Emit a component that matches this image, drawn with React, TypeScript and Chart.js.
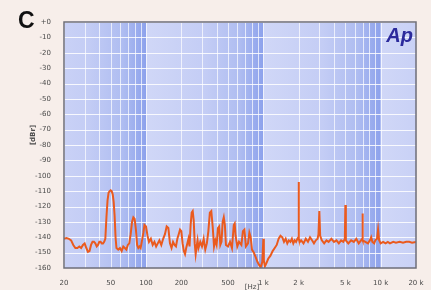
import React, { useEffect, useRef } from "react";
import { Chart, registerables } from "chart.js";

Chart.register(...registerables);

const freqs: number[] = [
  20, 21, 22, 23, 24, 25, 26, 27, 28, 29, 30, 31, 32, 33, 34, 35, 36, 37, 38, 39,
  40, 41, 42, 43, 44, 45, 46, 47, 48, 49, 50, 51, 52, 53, 54, 55, 56, 58, 60, 62,
  64, 66, 68, 70, 72, 74, 76, 78, 80, 82, 84, 86, 88, 90, 92, 95, 97, 100, 103, 106,
  110, 114, 118, 122, 126, 130, 135, 140, 145, 150, 155, 160, 165, 170, 175, 180, 185, 190, 195, 200,
  205, 210, 215, 220, 225, 230, 235, 240, 245, 250, 255, 260, 265, 270, 275, 280, 290, 300, 310, 320,
  330, 340, 350, 360, 370, 380, 390, 400, 410, 420, 430, 440, 450, 460, 470, 480, 500, 520, 540, 560,
  570, 580, 600, 620, 650, 670, 690, 710, 740, 760, 780, 800, 830, 860, 890, 920, 950, 980, 1000, 1010,
  1030, 1060, 1100, 1150, 1200, 1250, 1300, 1350, 1400, 1450, 1500, 1550, 1600, 1650, 1700, 1750, 1800, 1850, 1900, 1950,
  1990, 2000, 2010, 2050, 2100, 2200, 2300, 2400, 2500, 2600, 2700, 2800, 2900, 2950, 3000, 3050, 3150, 3300, 3450, 3600,
  3800, 4000, 4200, 4400, 4600, 4800, 4950, 5000, 5050, 5300, 5600, 5900, 6200, 6500, 6800, 6950, 7000, 7050, 7400, 7800,
  8100, 8300, 8500, 8800, 9000, 9300, 9500, 9700, 10000, 10500, 11000, 11500, 12000, 12800, 13500, 14500, 15500, 16500, 17500, 18500,
  20000,
];

const levels: number[] = [
  -141, -140.5, -141, -142, -145, -147, -147, -146, -147, -145, -144, -147, -149.5, -149, -145, -143, -143, -144, -146, -145,
  -143, -143, -144, -144, -143, -141, -127, -116, -111, -110, -109.5, -110, -112, -117, -126, -140, -147, -148, -147, -149,
  -146, -147, -148, -145, -144, -138, -130, -127, -128, -135, -145, -147, -146, -147, -143, -137, -132, -133, -139, -143,
  -141, -145, -143, -146, -144, -142, -145, -141, -138, -133, -134, -144, -147, -143, -145, -146, -141, -138, -135, -136,
  -144, -149, -151, -147, -144, -141, -146, -132, -124, -123, -129, -144, -151, -146, -142, -147, -143, -146, -141, -148,
  -144, -136, -124, -123, -133, -146, -142, -145, -134, -133, -145, -143, -130, -127, -132, -145, -146, -143, -147, -132,
  -131, -139, -146, -143, -145, -136, -135, -146, -144, -137, -140, -148, -150, -153, -156, -158, -159.5, -156, -141, -155,
  -159, -157, -154, -152, -149, -147, -145, -141, -139, -140, -143, -141, -144, -142, -143, -141, -144, -142, -143, -141,
  -140, -104, -141, -143, -142, -144, -141, -143, -140, -142, -144, -142, -141, -138, -123, -139, -142, -144, -142, -143,
  -141, -143, -142, -144, -142, -143, -141, -119, -142, -144, -142, -143, -141, -144, -142, -141, -124.5, -142, -143, -144,
  -142, -140, -143, -144, -142, -141, -135, -142, -144, -143, -144, -143, -144, -143, -143.5, -143, -143.5, -143, -143, -143.5,
  -143,
];

const xTickValues: number[] = [20, 50, 100, 200, 500, 1000, 2000, 5000, 10000, 20000];
const xTickLabels: string[] = ["20", "50", "100", "200", "500", "1 k", "2 k", "5 k", "10 k", "20 k"];
const yTickLabels: string[] = [
  "+0", "-10", "-20", "-30", "-40", "-50", "-60", "-70", "-80", "-90",
  "-100", "-110", "-120", "-130", "-140", "-150", "-160",
];
const minorGrid: number[] = [
  20, 30, 40, 50, 60, 70, 80, 90, 100, 200, 300, 400, 500, 600, 700, 800, 900,
  1000, 2000, 3000, 4000, 5000, 6000, 7000, 8000, 9000, 10000, 20000,
];
const decades: number[][] = [[10, 100], [100, 1000], [1000, 10000], [10000, 100000]];

const bgPlugin = {
  id: "apBackground",
  beforeDatasetsDraw(chart: any) {
    const { ctx, chartArea: a, scales } = chart;
    const xs = scales.x;
    const ys = scales.y;
    ctx.save();
    ctx.beginPath();
    ctx.rect(a.left, a.top, a.right - a.left, a.bottom - a.top);
    ctx.clip();
    ctx.fillStyle = "#c9d1f5";
    ctx.fillRect(a.left, a.top, a.right - a.left, a.bottom - a.top);
    for (const [d0, d1] of decades) {
      const x0 = xs.getPixelForValue(d0);
      const x1 = xs.getPixelForValue(d1);
      const g = ctx.createLinearGradient(x0, 0, x1, 0);
      g.addColorStop(0, "#d0d7f7");
      g.addColorStop(0.5, "#c4cdf5");
      g.addColorStop(0.8, "#afbdf1");
      g.addColorStop(1, "#8da2ec");
      ctx.fillStyle = g;
      ctx.fillRect(x0, a.top, x1 - x0, a.bottom - a.top);
    }
    ctx.strokeStyle = "rgba(255,255,255,0.7)";
    ctx.lineWidth = 1;
    for (const f of minorGrid) {
      const x = Math.round(xs.getPixelForValue(f)) + 0.5;
      ctx.beginPath();
      ctx.moveTo(x, a.top);
      ctx.lineTo(x, a.bottom);
      ctx.stroke();
    }
    ctx.strokeStyle = "rgba(255,255,255,0.85)";
    for (let v = 0; v >= -160; v -= 10) {
      const y = Math.round(ys.getPixelForValue(v)) + 0.5;
      ctx.beginPath();
      ctx.moveTo(a.left, y);
      ctx.lineTo(a.right, y);
      ctx.stroke();
    }
    ctx.restore();
  },
  afterDraw(chart: any) {
    const { ctx, chartArea: a } = chart;
    ctx.save();
    ctx.strokeStyle = "#6e6e78";
    ctx.lineWidth = 1.5;
    ctx.strokeRect(a.left, a.top, a.right - a.left, a.bottom - a.top);
    ctx.fillStyle = "#2b2a9c";
    ctx.font = "italic bold 20px 'Liberation Sans', Arial, sans-serif";
    ctx.textAlign = "right";
    ctx.textBaseline = "top";
    ctx.fillText("Ap", a.right - 3, a.top + 4);
    ctx.fillStyle = "#4a4a4a";
    ctx.font = "bold 7px 'DejaVu Sans', sans-serif";
    ctx.textAlign = "center";
    ctx.textBaseline = "middle";
    ctx.translate(33, 135);
    ctx.rotate(-Math.PI / 2);
    ctx.fillText("[dBr]", 0, 0);
    ctx.restore();
    ctx.save();
    ctx.fillStyle = "#4a4a4a";
    ctx.font = "7px 'DejaVu Sans', sans-serif";
    ctx.textAlign = "center";
    ctx.textBaseline = "top";
    ctx.fillText("[Hz]", 252, 284);
    ctx.restore();
  },
};

export default function App() {
  const ref = useRef<HTMLCanvasElement>(null);
  useEffect(() => {
    if (!ref.current) return;
    const points = freqs.map((f, i) => ({ x: f, y: levels[i] }));
    const chart = new Chart(ref.current, {
      type: "line",
      data: {
        datasets: [
          {
            data: points,
            borderColor: "#ea5a1e",
            borderWidth: 2,
            pointRadius: 0,
            tension: 0,
            fill: false,
          },
        ],
      },
      plugins: [bgPlugin],
      options: {
        animation: false,
        responsive: false,
        maintainAspectRatio: false,
        layout: { padding: { left: 0, right: 15, top: 22, bottom: 0 } },
        plugins: { legend: { display: false }, tooltip: { enabled: false } },
        scales: {
          x: {
            type: "logarithmic",
            min: 20,
            max: 20000,
            grid: { display: false },
            border: { display: false },
            afterBuildTicks: (s: any) => {
              s.ticks = xTickValues.map((v) => ({ value: v }));
            },
            afterFit: (s: any) => {
              s.height = 22;
            },
            ticks: {
              autoSkip: false,
              maxRotation: 0,
              padding: 3,
              color: "#4a4a4a",
              font: { family: "'DejaVu Sans', sans-serif", size: 7 },
              callback: (v: any) => {
                const i = xTickValues.indexOf(Number(v));
                return i >= 0 ? xTickLabels[i] : "";
              },
            },
          },
          y: {
            min: -160,
            max: 0,
            grid: { display: false },
            border: { display: false },
            afterBuildTicks: (s: any) => {
              s.ticks = yTickLabels.map((_, i) => ({ value: -10 * i }));
            },
            afterFit: (s: any) => {
              s.width = 64;
            },
            ticks: {
              autoSkip: false,
              padding: 5,
              color: "#4a4a4a",
              font: { family: "'DejaVu Sans', sans-serif", size: 7 },
              callback: (v: any) => yTickLabels[Math.round(-Number(v) / 10)],
            },
          },
        },
      },
    });
    return () => chart.destroy();
  }, []);
  return (
    <div
      style={{
        position: "fixed",
        left: 0,
        top: 0,
        width: 431,
        height: 290,
        background: "#f7eeea",
      }}
    >
      <canvas ref={ref} width={431} height={290} style={{ display: "block" }} />
      <div
        style={{
          position: "absolute",
          left: 18,
          top: 7,
          fontFamily: "'Liberation Sans', Arial, sans-serif",
          fontWeight: "bold",
          fontSize: 23,
          color: "#111",
        }}
      >
        C
      </div>
    </div>
  );
}
